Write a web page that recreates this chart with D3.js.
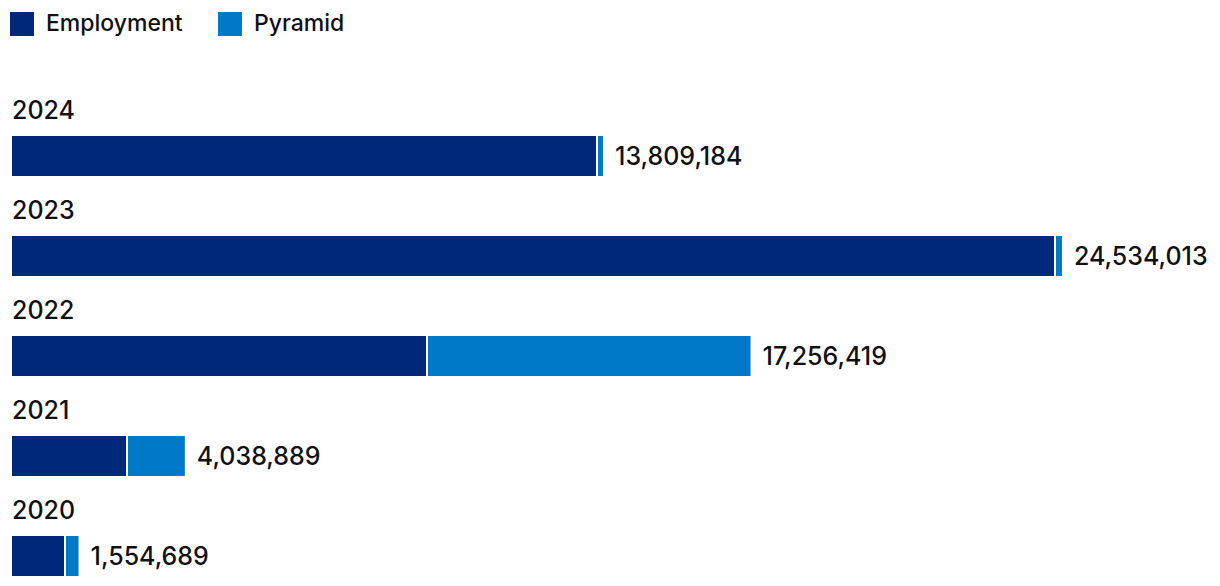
<!DOCTYPE html>
<html>
<head>
<meta charset="utf-8">
<script src="https://cdn.jsdelivr.net/npm/d3@7"></script>
<style>
    body { margin: 0; background: #fff; }
    #chart { width: 1220px; height: 586px; }
    text { font-family: Inter, "Noto Sans", sans-serif; fill: #111; }
</style>
</head>
<body>
<div id="chart"></div>
<script>
// data
const years = ["2024", "2023", "2022", "2021", "2020"];
const employment = [13669000, 24370450, 9696700, 2687000, 1238400];
const pyramid = [140184, 163563, 7559719, 1351889, 316289];
const seriesNames = ["Employment", "Pyramid"];
const seriesColors = ["#00287a", "#0079c8"];

let margin = {top: 0, left: 12};
let width = 1220, height = 586;

let svg = d3.select("#chart").append("svg")
    .attr("width", width)
    .attr("height", height);

let rows = years.map((y, i) => ({year: y, Employment: employment[i], Pyramid: pyramid[i], total: employment[i] + pyramid[i]}));

let x = d3.scaleLinear()
    .domain([0, d3.max(rows, d => d.total)])
    .range([margin.left, 1062]);

// row band: each row is 100px tall (label + bar)
let y = d3.scaleBand()
    .domain(years)
    .range([96, 596])
    .paddingInner(0);

let barH = 40;
let barOffset = 40; // bar top inside the band

// legend
let legend = svg.append("g")
    .selectAll("g")
    .data(seriesNames)
    .enter().append("g")
    .attr("transform", (d, i) => "translate(" + [10, 218][i] + ",12)");

legend.append("rect")
    .attr("width", 24)
    .attr("height", 24)
    .attr("fill", (d, i) => seriesColors[i]);

legend.append("text")
    .attr("x", 36)
    .attr("y", 19)
    .attr("font-size", 23)
    .attr("font-weight", 500)
    .text(d => d);

// stacked bars
let stack = d3.stack().keys(seriesNames);
let stacked = stack(rows);

let groups = svg.append("g")
    .selectAll("g")
    .data(stacked)
    .enter().append("g")
    .attr("fill", (d, i) => seriesColors[i]);

groups.selectAll("rect")
    .data(d => d)
    .enter().append("rect")
    .attr("x", d => x(d[0]) + (d[0] > 0 ? 1 : 0))
    .attr("y", d => y(d.data.year) + barOffset)
    .attr("height", barH)
    // leave a 2px white gap between the two pieces
    .attr("width", d => Math.max(0, x(d[1]) - x(d[0]) - 1));

// year labels
svg.append("g")
    .selectAll("text")
    .data(rows)
    .enter().append("text")
    .attr("x", 12)
    .attr("y", d => y(d.year) + 23)
    .attr("font-size", 25)
    .attr("font-weight", 500)
    .text(d => d.year);

// total labels
svg.append("g")
    .selectAll("text")
    .data(rows)
    .enter().append("text")
    .attr("x", d => x(d.total) + 12)
    .attr("y", d => y(d.year) + barOffset + barH / 2 + 9)
    .attr("font-size", 25)
    .attr("font-weight", 500)
    .text(d => d3.format(",")(d.total));
</script>
</body>
</html>
